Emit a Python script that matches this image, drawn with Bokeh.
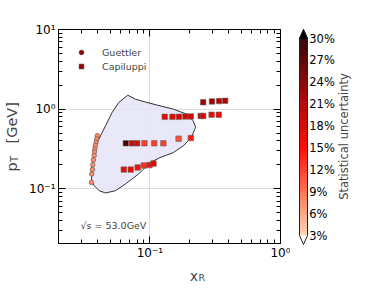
import math
import numpy as np
from bokeh.plotting import figure
from bokeh.models import (FixedTicker, LogAxis, Legend, LegendItem, Label,
                          ColumnDataSource, LinearColorMapper, Range1d)
from bokeh.core.properties import value
from bokeh.layouts import row, column
from bokeh.embed import file_html
from bokeh.resources import INLINE

FONT = "DejaVu Sans"

# ---------------- data ----------------
guettler_xr = [0.0397, 0.0392, 0.0388, 0.0383, 0.0379, 0.0377, 0.0375, 0.0370, 0.0366, 0.0364, 0.0359, 0.0357]
guettler_pt = [0.464, 0.422, 0.384, 0.348, 0.316, 0.290, 0.261, 0.230, 0.200, 0.174, 0.153, 0.120]
guettler_unc = [7.5, 7.5, 7.5, 7.5, 7.5, 7.5, 7.5, 7.5, 7.5, 7.5, 7.5, 7.5]

capiluppi_xr = [0.256, 0.299, 0.339, 0.377,
                0.130, 0.149, 0.167, 0.187, 0.206, 0.245, 0.256, 0.297, 0.337,
                0.0655, 0.073, 0.080, 0.091, 0.108, 0.127, 0.166, 0.206,
                0.0632, 0.0714, 0.0807, 0.090, 0.0995, 0.1067]
capiluppi_pt = [1.22, 1.25, 1.26, 1.27,
                0.80, 0.80, 0.80, 0.81, 0.81, 0.82, 0.82, 0.85, 0.85,
                0.372, 0.372, 0.372, 0.372, 0.372, 0.372, 0.425, 0.434,
                0.174, 0.174, 0.185, 0.196, 0.198, 0.207]
capiluppi_unc = [22, 22, 21, 21,
                 17, 17, 18, 18, 18, 18, 18, 16, 16,
                 28, 19, 18, 12, 12, 12, 11, 14,
                 16, 16, 15, 13, 15, 17]

contour_xr = [0.0678, 0.0774, 0.0949, 0.1197, 0.1512, 0.1907, 0.2143, 0.2244, 0.2203, 0.2080,
              0.1800, 0.1512, 0.1197, 0.1005, 0.0821, 0.0650, 0.0546, 0.0458, 0.0409, 0.0375,
              0.0359, 0.0357, 0.0367, 0.0383, 0.0420, 0.0458, 0.0515, 0.0579]
contour_pt = [1.496, 1.334, 1.213, 1.099, 1.0, 0.866, 0.714, 0.591, 0.557, 0.438,
              0.345, 0.284, 0.246, 0.213, 0.153, 0.1145, 0.0944, 0.0884, 0.0944, 0.109,
              0.126, 0.168, 0.237, 0.345, 0.464, 0.618, 0.909, 1.213]

x_major_ticks = [0.1, 1.0]
y_major_ticks = [0.1, 1.0, 10.0]
x_tick_labels = {0.1: "10\u207b\u00b9", 1: "10\u2070"}
y_tick_labels = {0.1: "10\u207b\u00b9", 1: "10\u2070", 10: "10\u00b9"}
cbar_ticks = [3, 6, 9, 12, 15, 18, 21, 24, 27, 30]
cbar_labels = ["3%", "6%", "9%", "12%", "15%", "18%", "21%", "24%", "27%", "30%"]
unc_low, unc_high = 3, 30

# ---------------- colour map ----------------
anchors = [(0.0, "#ffd8b4"), (0.22, "#ff7050"), (0.44, "#ff0a00"),
           (0.67, "#b40000"), (1.0, "#2e0000")]


def hex2rgb(h):
    return [int(h[i:i + 2], 16) for i in (1, 3, 5)]


def make_palette(n=256):
    out = []
    for t in np.linspace(0, 1, n):
        for (t0, c0), (t1, c1) in zip(anchors[:-1], anchors[1:]):
            if t0 <= t <= t1:
                f = (t - t0) / (t1 - t0)
                a, b = hex2rgb(c0), hex2rgb(c1)
                rgb = [round(a[k] + (b[k] - a[k]) * f) for k in range(3)]
                out.append("#%02x%02x%02x" % tuple(rgb))
                break
    return out


palette = make_palette()
mapper = LinearColorMapper(palette=palette, low=unc_low, high=unc_high,
                           low_color="white", high_color="black")


def blank_fig(w, h, xr=(0, 1), yr=(0, 1)):
    f = figure(width=w, height=h, x_range=Range1d(*xr), y_range=Range1d(*yr),
               output_backend="svg", toolbar_location=None,
               x_axis_location=None, y_axis_location=None, min_border=0)
    f.grid.visible = False
    f.outline_line_color = None
    f.background_fill_color = "white"
    f.border_fill_color = "white"
    return f


# ---------------- main figure ----------------
p = figure(width=264, height=262, x_axis_type="log", y_axis_type="log",
           x_range=Range1d(0.02, 1.0), y_range=Range1d(0.0205, 10.0),
           output_backend="svg", toolbar_location=None,
           min_border_left=30, min_border_right=10, min_border_top=29, min_border_bottom=18)
p.outline_line_color = "black"
p.background_fill_color = "white"
p.border_fill_color = "white"

top_ax = LogAxis()
right_ax = LogAxis()
p.add_layout(top_ax, "above")
p.add_layout(right_ax, "right")

x_minor = [m * 10.0 ** e for e in (-2, -1) for m in range(2, 10)]
y_minor = [m * 10.0 ** e for e in (-2, -1, 0) for m in range(2, 10)]
xt = FixedTicker(ticks=x_major_ticks, minor_ticks=x_minor)
yt = FixedTicker(ticks=y_major_ticks, minor_ticks=y_minor)

for ax, tk in [(p.below[0], xt), (top_ax, xt), (p.left[0], yt), (right_ax, yt)]:
    ax.ticker = tk
    ax.axis_line_color = "black"
    ax.major_tick_in = 7
    ax.major_tick_out = 0
    ax.minor_tick_in = 4
    ax.minor_tick_out = 0
    ax.major_tick_line_color = "black"
    ax.minor_tick_line_color = "black"
    ax.major_label_text_font = FONT
    ax.major_label_text_font_size = "12px"
    ax.major_label_text_color = "black"

p.below[0].major_label_overrides = x_tick_labels
p.left[0].major_label_overrides = y_tick_labels
p.below[0].major_label_standoff = 2
p.left[0].major_label_standoff = 3
for ax in (top_ax, right_ax):
    ax.major_label_text_font_size = "1px"
    ax.major_label_text_color = None
    ax.major_label_standoff = 1

p.xgrid.ticker = FixedTicker(ticks=x_major_ticks)
p.ygrid.ticker = FixedTicker(ticks=y_major_ticks)
p.grid.grid_line_color = "#dcdcdc"
p.grid.grid_line_width = 1

p.patch(contour_xr, contour_pt, fill_color="#e4e4f8", fill_alpha=0.85,
        line_color="#333333", line_width=1)

gsrc = ColumnDataSource(dict(x=guettler_xr, y=guettler_pt, u=guettler_unc))
csrc = ColumnDataSource(dict(x=capiluppi_xr, y=capiluppi_pt, u=capiluppi_unc))
p.scatter("x", "y", source=gsrc, marker="circle", size=4.6,
          fill_color={"field": "u", "transform": mapper},
          line_color="#555555", line_width=0.6)
p.scatter("x", "y", source=csrc, marker="square", size=5.5,
          fill_color={"field": "u", "transform": mapper},
          line_color="#666666", line_width=0.6)

# legend proxies (no visible mark in the plot)
lg1 = p.scatter([np.nan], [np.nan], marker="circle", size=5, fill_color="#8b0000",
                line_color="#444444", line_width=0.6)
lg2 = p.scatter([np.nan], [np.nan], marker="square", size=5.5, fill_color="#9a0000",
                line_color="#444444", line_width=0.6)
legend = Legend(items=[LegendItem(label="Guettler", renderers=[lg1]),
                       LegendItem(label="Capiluppi", renderers=[lg2])],
                location=(16, 171), padding=4, spacing=2, glyph_width=14,
                glyph_height=12, label_height=12, label_standoff=14,
                label_text_font=FONT, label_text_font_size="9.5px",
                border_line_color=None, background_fill_alpha=0.0, margin=0)
p.add_layout(legend)

p.add_layout(Label(x=22, y=18, x_units="screen", y_units="screen",
                   text="\u221as = 53.0GeV", text_font=FONT, text_font_size="9.5px",
                   text_baseline="alphabetic"))

# ---------------- y axis title (left strip) ----------------
ylab = blank_fig(26, 284)
ylab.add_layout(Label(x=11, y=113, x_units="screen", y_units="screen", text="p",
                      angle=math.pi / 2, text_font=FONT, text_font_size="14.5px",
                      text_baseline="alphabetic"))
ylab.add_layout(Label(x=14, y=122.5, x_units="screen", y_units="screen", text="T",
                      angle=math.pi / 2, text_font=FONT, text_font_size="10px",
                      text_baseline="alphabetic"))
ylab.add_layout(Label(x=11, y=141, x_units="screen", y_units="screen", text="[GeV]",
                      angle=math.pi / 2, text_font=FONT, text_font_size="14.5px",
                      text_baseline="alphabetic"))

# ---------------- x axis title (bottom strip) ----------------
xlab = blank_fig(264, 22)
xlab.add_layout(Label(x=131.5, y=9, x_units="screen", y_units="screen", text="x",
                      text_font=FONT, text_font_size="13.5px", text_baseline="alphabetic"))
xlab.add_layout(Label(x=140, y=7, x_units="screen", y_units="screen", text="R",
                      text_font=FONT, text_font_size="9.5px", text_baseline="alphabetic"))

# ---------------- colour bar ----------------
cb = blank_fig(66, 284, xr=(0, 66), yr=(-3.716, 35.21))
bar_l, bar_r, bar_mid = 9, 17, 13
tip_hi, tip_lo = 31.23, 1.77
levels = np.linspace(unc_low, unc_high, len(palette) + 1)
cb.quad(left=bar_l, right=bar_r, bottom=levels[:-1], top=levels[1:], fill_color=palette,
        line_color=palette, line_width=0.5)
cb.patch([bar_l, bar_mid, bar_r], [unc_high, tip_hi, unc_high], fill_color="black", line_color="black")
cb.patch([bar_l, bar_mid, bar_r], [unc_low, tip_lo, unc_low], fill_color="white", line_color=None)
cb.line([bar_l, bar_l, bar_mid, bar_r, bar_r, bar_mid, bar_l],
        [unc_low, unc_high, tip_hi, unc_high, unc_low, tip_lo, unc_low],
        line_color="#222222", line_width=1)
cb.text(x=[bar_r + 1.8] * len(cbar_ticks), y=cbar_ticks, text=cbar_labels,
        text_font=value(FONT), text_font_size="11.5px", text_align="left",
        text_baseline="middle", text_color="black")
cb.add_layout(Label(x=53, y=148, x_units="screen", y_units="screen",
                    text="Statistical uncertainty", angle=math.pi / 2,
                    text_align="center", text_baseline="alphabetic",
                    text_font=FONT, text_font_size="11.5px"))

layout = row(ylab, column(p, xlab), cb)
open("out.html", "w").write(file_html(layout, INLINE))
